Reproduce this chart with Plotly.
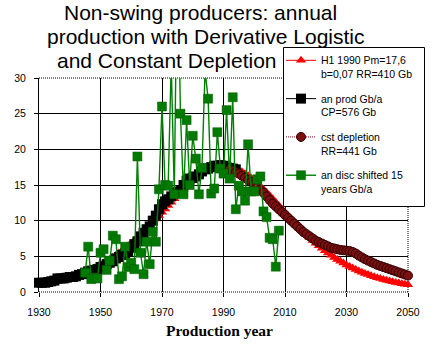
import plotly.graph_objects as go

# ---------------- data ----------------
years_all = list(range(1930, 2051))

# H1 1990 Pm=17,6 b=0,07 RR=410 Gb  (1930..2050)
h1_values = [
    1.02, 1.10, 1.17, 1.26, 1.34, 1.44, 1.54, 1.64, 1.76, 1.88,
    2.00, 2.14, 2.28, 2.44, 2.60, 2.77, 2.96, 3.15, 3.36, 3.58,
    3.80, 4.05, 4.30, 4.57, 4.85, 5.15, 5.46, 5.78, 6.12, 6.48,
    6.84, 7.22, 7.62, 8.03, 8.45, 8.88, 9.32, 9.78, 10.23, 10.70,
    11.17, 11.65, 12.12, 12.59, 13.06, 13.52, 13.97, 14.41, 14.83, 15.23,
    15.61, 15.97, 16.29, 16.58, 16.85, 17.07, 17.26, 17.41, 17.51, 17.58,
    17.60,
    17.58, 17.51, 17.41, 17.26, 17.07, 16.85, 16.58, 16.29, 15.97, 15.61,
    15.23, 14.83, 14.41, 13.97, 13.52, 13.06, 12.59, 12.12, 11.65, 11.17,
    10.70, 10.23, 9.78, 9.32, 8.88, 8.45, 8.03, 7.62, 7.22, 6.84,
    6.48, 6.12, 5.78, 5.46, 5.15, 4.85, 4.57, 4.30, 4.05, 3.80,
    3.58, 3.36, 3.15, 2.96, 2.77, 2.60, 2.44, 2.28, 2.14, 2.00,
    1.88, 1.76, 1.64, 1.54, 1.44, 1.34, 1.26, 1.17, 1.10, 1.02,
]

# an prod Gb/a CP=576 Gb  (1930..1994)
prod_years = list(range(1930, 1995))
prod_values = [
    1.3, 1.3, 1.3, 1.4, 1.5, 1.6, 1.9, 1.9, 1.9, 2.0,
    2.1, 2.1, 2.2, 2.4, 2.5, 2.7, 2.9, 3.0, 3.1, 3.2,
    3.5, 3.6, 3.9, 4.1, 4.3, 4.7, 4.9, 5.2, 5.4, 5.7,
    6.2, 6.7, 7.1, 7.8, 8.3, 8.8, 9.2, 10.0, 10.7, 11.6,
    12.3, 12.7, 13.0, 13.4, 13.9, 14.0, 14.3, 15.0, 15.6, 15.9,
    16.0, 16.2, 16.5, 16.9, 17.2, 17.3, 17.5, 17.7, 17.7, 17.8,
    17.7, 17.5, 17.4, 17.3, 17.2,
]

# cst depletion RR=441 Gb  (1992..2050)
cst_years = list(range(1992, 2051))
cst_values = [
    17.2, 17.0, 16.8, 16.6, 16.3, 16.0, 15.7, 15.4, 15.1, 14.7,
    14.3, 13.9, 13.4, 12.9, 12.4, 12.0, 11.6, 11.2, 10.8, 10.4,
    10.0, 9.6, 9.2, 8.8, 8.4, 8.1, 7.8, 7.5, 7.2, 7.0,
    6.8, 6.6, 6.4, 6.2, 6.1, 6.0, 5.9, 5.85, 5.8, 5.75,
    5.6, 5.4, 5.1, 4.85, 4.6, 4.4, 4.2, 4.0, 3.8, 3.65,
    3.5, 3.35, 3.2, 3.05, 2.9, 2.75, 2.6, 2.45, 2.3,
]

# an disc shifted 15 years Gb/a  (1945..2008)
disc_years = list(range(1945, 2009))
disc_values = [
    2.7, 6.35, 1.8, 2.0, 1.9, 5.5, 6.0, 3.1, 4.4, 7.9,
    7.4, 1.8, 2.2, 6.35, 3.5, 4.1, 3.2, 19.0, 5.5, 2.5,
    7.05, 3.9, 8.45, 7.05, 14.4, 26.0, 15.0, 14.9, 32.0, 13.7,
    50.0, 25.0, 13.7, 24.1, 15.0, 21.9, 18.7, 13.7, 17.4, 31.0,
    27.1, 13.8, 14.5, 22.4, 17.3, 16.6, 25.5, 15.9, 27.3, 11.6,
    14.9, 14.1, 12.8, 20.7, 14.1, 14.1, 15.8, 16.2, 11.3, 10.5,
    7.6, 7.4, 3.55, 8.6,
]

x_ticks = [1930, 1950, 1970, 1990, 2010, 2030, 2050]
y_ticks = [0, 5, 10, 15, 20, 25, 30]

names = [
    "H1 1990 Pm=17,6<br>b=0,07 RR=410 Gb",
    "an prod Gb/a<br>CP=576 Gb",
    "cst depletion<br>RR=441 Gb",
    "an disc shifted 15<br>years Gb/a",
]
title_lines = [
    "Non-swing producers: annual",
    "production with Derivative Logistic",
    "and Constant Depletion",
]
x_title = "Production year"

# ---------------- layout geometry (pixels) ----------------
W_FIG, H_FIG = 438, 350
L, T, PW, PH = 39, 78, 369, 214


def px_x(x):
    return (x - L) / PW


def px_y(y):
    return (T + PH - y) / PH


SANS = "Liberation Sans, Arial, sans-serif"
SERIF = "Liberation Serif, Times New Roman, serif"

fig = go.Figure()

fig.add_trace(go.Scatter(
    x=years_all, y=h1_values, name=names[0], mode="lines+markers",
    line=dict(color="#FF0000", width=1),
    marker=dict(symbol="triangle-up", size=9, color="#FF0000"),
    cliponaxis=False, legendgroup="a",
))
fig.add_trace(go.Scatter(
    x=prod_years, y=prod_values, name=names[1], mode="lines+markers",
    line=dict(color="#000000", width=1),
    marker=dict(symbol="square", size=10, color="#000000"),
    cliponaxis=False, legendgroup="b",
))
fig.add_trace(go.Scatter(
    x=cst_years, y=cst_values, name=names[2], mode="lines+markers",
    line=dict(color="#990000", width=1, dash="1px,1px"),
    marker=dict(symbol="circle", size=9, color="#7A1010",
                line=dict(color="#300000", width=1)),
    cliponaxis=False, legendgroup="c",
))
fig.add_trace(go.Scatter(
    x=disc_years, y=disc_values, name=names[3], mode="lines+markers",
    line=dict(color="#008000", width=1.4),
    marker=dict(symbol="square", size=9, color="#007A00",
                line=dict(color="#005A00", width=0.5)),
    cliponaxis=True, legendgroup="d",
))

# plot border: dotted top / right / bottom
for (x0, y0, x1, y1) in [(0, 1, 1, 1), (1, 0, 1, 1), (0, 0, 1, 0)]:
    fig.add_shape(type="line", xref="paper", yref="paper",
                  x0=x0, y0=y0, x1=x1, y1=y1,
                  line=dict(color="black", width=1, dash="1px,1px"),
                  layer="below")

# legend frame
fig.add_shape(type="rect", xref="paper", yref="paper",
              x0=px_x(283.5), y0=px_y(206.5), x1=px_x(424.5), y1=px_y(47.5),
              line=dict(color="black", width=1), fillcolor="white",
              layer="above")

annotations = []
for txt, cx, cy in zip(title_lines, [200, 205, 166.5], [12.7, 36.7, 60.7]):
    annotations.append(dict(
        text=txt, xref="paper", yref="paper", x=px_x(cx), y=px_y(cy),
        xanchor="center", yanchor="middle", showarrow=False,
        font=dict(family=SANS, size=21, color="black"),
    ))
annotations.append(dict(
    text="<b>" + x_title + "</b>", xref="paper", yref="paper",
    x=px_x(219), y=px_y(330.8), xanchor="center", yanchor="middle",
    showarrow=False, font=dict(family=SERIF, size=15.5, color="black"),
))

fig.update_layout(
    width=W_FIG, height=H_FIG,
    margin=dict(l=L, r=W_FIG - L - PW, t=T, b=H_FIG - T - PH, autoexpand=False),
    paper_bgcolor="white", plot_bgcolor="white",
    font=dict(family=SANS, size=10.5, color="black"),
    showlegend=True,
    legend=dict(
        x=px_x(281), y=px_y(47), xanchor="left", yanchor="top",
        bgcolor="rgba(0,0,0,0)", borderwidth=0,
        font=dict(family=SANS, size=10.5, color="black"),
        valign="top", traceorder="grouped", tracegroupgap=8,
        itemwidth=30,
    ),
    annotations=annotations,
)

fig.update_xaxes(
    range=[1930, 2050], tickmode="array", tickvals=x_ticks,
    ticktext=[str(v) for v in x_ticks],
    showgrid=True, gridcolor="black", gridwidth=1,
    zeroline=False, showline=False,
    ticks="outside", ticklen=4, tickcolor="black", tickwidth=1,
    tickfont=dict(family=SANS, size=10.5, color="black"),
    ticklabelstandoff=6,
)
fig.update_yaxes(
    range=[0, 30], tickmode="array", tickvals=y_ticks,
    showgrid=True, gridcolor="black", gridwidth=1,
    zeroline=False, showline=True, linecolor="black", linewidth=1,
    ticks="outside", ticklen=4, tickcolor="black", tickwidth=1,
    tickfont=dict(family=SANS, size=10.5, color="black"),
    ticklabelstandoff=6,
)

fig.write_html("out.html")
